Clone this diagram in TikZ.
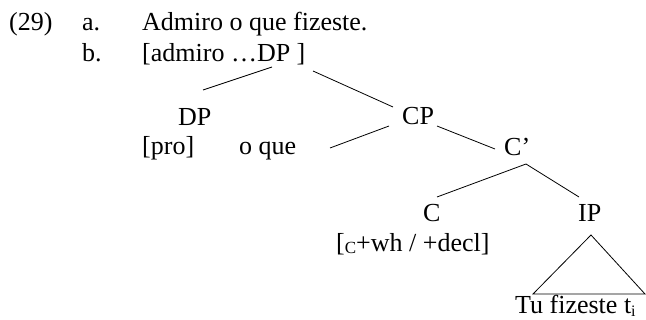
\documentclass[tikz,border=0pt]{standalone}
\usepackage{fontspec}
\setmainfont{Liberation Serif}
\begin{document}
\begin{tikzpicture}[x=1pt,y=1pt,
  lbl/.style={anchor=base west,inner sep=0pt,font=\fontsize{26}{30}\selectfont},
  branch/.style={line width=0.8pt}]
\useasboundingbox (0,0) rectangle (646,-320);
% example header
\node[lbl] (num) at (9,-31) {(29)};
\node[lbl] (la) at (82,-31) {a.};
\node[lbl] (sa) at (142,-31) {Admiro o que fizeste.};
\node[lbl] (lb) at (82,-62) {b.};
\node[lbl] (sb) at (142,-62) {[admiro …DP ]};
% tree labels
\node[lbl] (dp) at (178,-126) {DP};
\node[lbl] (pro) at (142,-155) {[pro]};
\node[lbl] (oque) at (239,-155) {o que};
\node[lbl] (cp) at (402,-125) {CP};
\node[lbl] (cbar) at (504,-156) {C’};
\node[lbl] (c) at (423,-222) {C};
\node[lbl] (ip) at (578,-222) {IP};
\node[lbl] (feat) at (336,-252) {[\raisebox{-2pt}{\fontsize{17}{17}\selectfont C}+wh / +decl]};
\node[lbl] (tu) at (515,-314) {Tu fizeste t\raisebox{-3pt}{\fontsize{16}{16}\selectfont i}};
% branch end points
\coordinate (sbL) at (272,-67);
\coordinate (dpT) at (203,-90);
\coordinate (sbR) at (313,-71);
\coordinate (cpT) at (393,-107);
\coordinate (cpL) at (389,-126);
\coordinate (oqR) at (330,-148);
\coordinate (cpR) at (437,-126);
\coordinate (cbL) at (495,-149);
\coordinate (cbB) at (526,-164);
\coordinate (cT) at (437,-197);
\coordinate (ipT) at (579,-197);
\coordinate (triA) at (591,-235);
\coordinate (triL) at (533,-294);
\coordinate (triR) at (645,-294);
% branches
\draw[branch] (sbL) -- (dpT);
\draw[branch] (sbR) -- (cpT);
\draw[branch] (cpL) -- (oqR);
\draw[branch] (cpR) -- (cbL);
\draw[branch] (cT) -- (cbB) -- (ipT);
\draw[branch] (triA) -- (triL) -- (triR) -- cycle;
\end{tikzpicture}
\end{document}
